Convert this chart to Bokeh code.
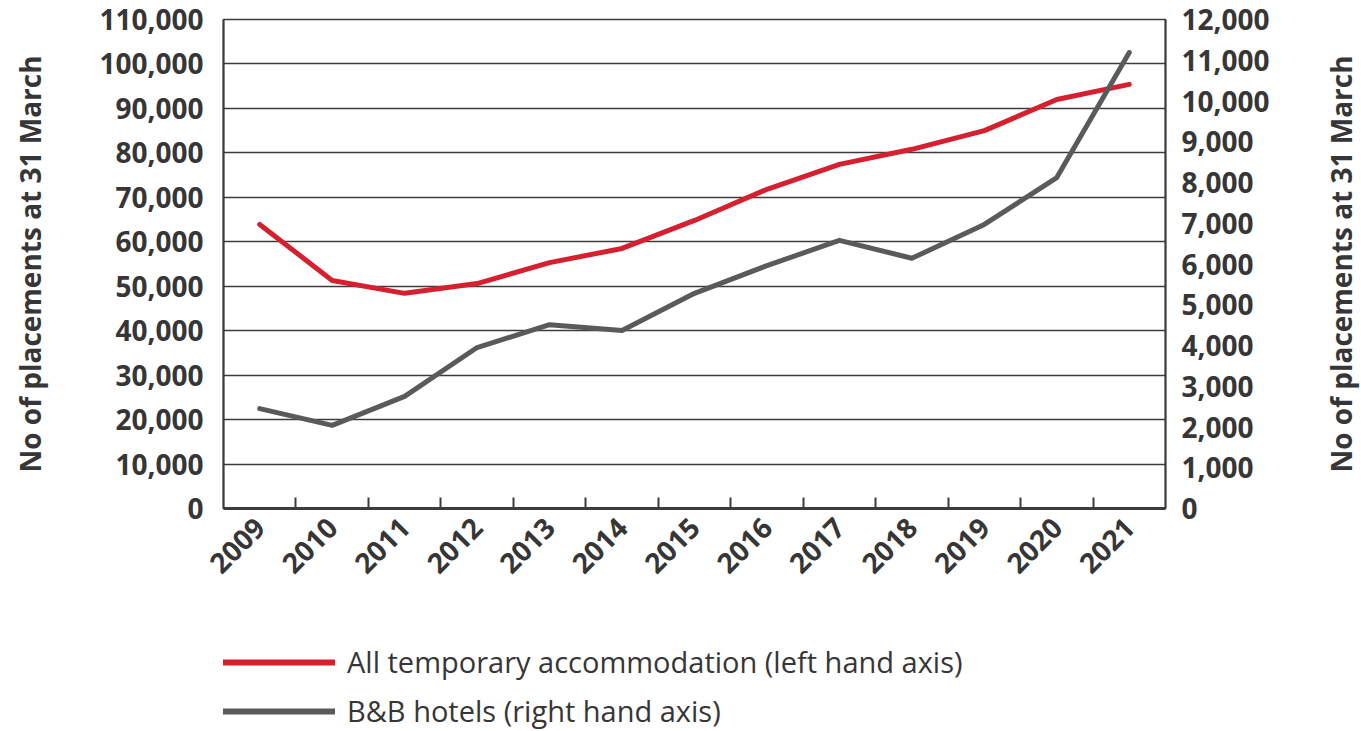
import math
from bokeh.plotting import figure
from bokeh.layouts import column, row
from bokeh.models import (Range1d, LinearAxis, FixedTicker, NumeralTickFormatter,
                          Legend, LegendItem, ColumnDataSource, Grid)
from bokeh.embed import file_html
from bokeh.resources import INLINE

years = ["2009", "2010", "2011", "2012", "2013", "2014", "2015",
         "2016", "2017", "2018", "2019", "2020", "2021"]
all_temp = [63900, 51300, 48400, 50600, 55300, 58500, 64800,
            71800, 77400, 80800, 85000, 92000, 95400]
bnb = [2450, 2040, 2750, 3950, 4510, 4370, 5280,
       5960, 6580, 6140, 6970, 8120, 11190]
left_ticks = list(range(0, 110001, 10000))
right_ticks = list(range(0, 12001, 1000))
axis_title = "No of placements at 31 March"
label_all = "All temporary accommodation (left hand axis)"
label_bnb = "B&B hotels (right hand axis)"

RED = "#d61f2f"
GREY = "#5a5a5a"
TXT = "#363636"
LINE = "#3c3c3c"
FONT = "Open Sans"
W = 1360
PW = 1310
H = 600

xpos = [i + 0.5 for i in range(len(years))]
src = ColumnDataSource(dict(x=xpos, a=all_temp, b=bnb))

p = figure(width=PW, height=H, output_backend="svg", toolbar_location=None,
           x_range=Range1d(0, len(years)), y_range=Range1d(0, 110000),
           x_axis_location=None, y_axis_location=None,
           min_border_left=223, min_border_right=PW - 1165,
           min_border_top=19, min_border_bottom=92)
for g in p.grid:
    g.visible = False
p.extra_y_ranges = {"right": Range1d(0, 12000)}
p.outline_line_color = LINE
p.outline_line_width = 1.5
p.background_fill_color = "white"
p.border_fill_color = "white"

def style_y(ax):
    ax.major_tick_line_color = None
    ax.minor_tick_line_color = None
    ax.axis_line_color = LINE
    ax.axis_line_width = 2
    ax.major_label_text_font = FONT
    ax.major_label_text_font_style = "bold"
    ax.major_label_text_font_size = "28px"
    ax.major_label_text_color = TXT
    ax.axis_label_text_font = FONT
    ax.axis_label_text_font_style = "bold"
    ax.axis_label_text_font_size = "28px"
    ax.axis_label_text_color = TXT

left = LinearAxis(ticker=FixedTicker(ticks=left_ticks),
                  formatter=NumeralTickFormatter(format="0,0"),
                  axis_label=axis_title)
style_y(left)
left.major_label_standoff = 14
left.axis_label_standoff = 47
p.add_layout(left, "left")

right = LinearAxis(y_range_name="right", ticker=FixedTicker(ticks=right_ticks),
                   formatter=NumeralTickFormatter(format="0,0"))
style_y(right)
right.major_label_standoff = 10
p.add_layout(right, "right")

bottom = LinearAxis(ticker=FixedTicker(ticks=xpos, minor_ticks=list(range(1, len(years)))),
                    major_label_overrides={xv: y for xv, y in zip(xpos, years)})
bottom.major_tick_line_color = None
bottom.minor_tick_line_color = LINE
bottom.minor_tick_line_width = 2
bottom.minor_tick_in = 11
bottom.minor_tick_out = 0
bottom.axis_line_color = LINE
bottom.axis_line_width = 3
bottom.major_label_orientation = math.pi / 4
bottom.major_label_standoff = 8
bottom.major_label_text_font = FONT
bottom.major_label_text_font_style = "bold"
bottom.major_label_text_font_size = "28px"
bottom.major_label_text_color = TXT
p.add_layout(bottom, "below")

grid = Grid(dimension=1, ticker=left.ticker, grid_line_color=LINE, grid_line_width=1.5)
p.add_layout(grid)

p.line("x", "a", source=src, line_color=RED, line_width=5,
       line_join="round", line_cap="round")
p.line("x", "b", source=src, y_range_name="right", line_color=GREY,
       line_width=5, line_join="round", line_cap="round")

# narrow panel on the right carrying the right-hand axis title (reading upwards)
rf = figure(width=W - PW, height=H, output_backend="svg", toolbar_location=None,
            x_range=Range1d(0, 1), y_range=Range1d(0, 12000),
            x_axis_location=None, y_axis_location=None,
            min_border_left=W - PW - 1, min_border_right=0,
            min_border_top=19, min_border_bottom=92, outline_line_color=None)
for g in rf.grid:
    g.visible = False
rax = LinearAxis(ticker=FixedTicker(ticks=[]), axis_label=axis_title)
style_y(rax)
rax.axis_line_color = None
rax.axis_label_standoff = 0
rf.add_layout(rax, "left")

# legend panel below the chart
LH = 130
lf = figure(width=W, height=LH, output_backend="svg", toolbar_location=None,
            x_range=Range1d(0, 1), y_range=Range1d(0, 1),
            x_axis_location=None, y_axis_location=None,
            min_border_left=223, min_border_right=0, min_border_top=0,
            min_border_bottom=0, outline_line_color=None)
for g in lf.grid:
    g.visible = False
lr1 = lf.line(x=[-5, -4], y=[-5, -4], line_color=RED, line_width=6, line_cap="round")
lr2 = lf.line(x=[-5, -4], y=[-5, -4], line_color=GREY, line_width=6, line_cap="round")
legend = Legend(items=[LegendItem(label=label_all, renderers=[lr1]),
                       LegendItem(label=label_bnb, renderers=[lr2])],
                location=(0, 0), orientation="vertical",
                glyph_width=112, glyph_height=26, label_height=26,
                spacing=10, padding=0, margin=0, label_standoff=12,
                border_line_color=None, background_fill_alpha=0)
legend.label_text_font = FONT
legend.label_text_font_size = "29px"
legend.label_text_color = TXT
lf.add_layout(legend, "center")

layout = column(row(p, rf, spacing=0), lf, spacing=0)
open("out.html", "w").write(file_html(layout, INLINE))
